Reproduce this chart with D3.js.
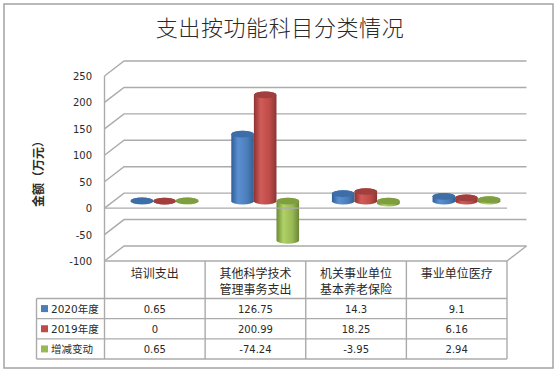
<!DOCTYPE html>
<html>
<head>
<meta charset="utf-8">
<script src="https://cdn.jsdelivr.net/npm/d3@7"></script>
<style>
html, body { margin: 0; padding: 0; background: #fff; }
svg { display: block; }
text { font-family: "DejaVu Sans", "Noto Sans CJK SC", sans-serif; fill: #2a2a2a; }
.cjk { font-family: "Noto Sans CJK SC", sans-serif; }
</style>
</head>
<body>
<div id="container"></div>
<script>
const categories = [["培训支出"], ["其他科学技术", "管理事务支出"], ["机关事业单位", "基本养老保险"], ["事业单位医疗"]];
const seriesNames = ["2020年度", "2019年度", "增减变动"];
const values2020 = [0.65, 126.75, 14.3, 9.1];
const values2019 = [0, 200.99, 18.25, 6.16];
const valuesChange = [0.65, -74.24, -3.95, 2.94];
const yTicks = [-100, -50, 0, 50, 100, 150, 200, 250];

const allValues = [values2020, values2019, valuesChange];
const width = 558, height = 372;
const gray = "#ababab";

// front plane of the 3d box, back wall is shifted by depth
const plotLeft = 104.5, plotRight = 507, plotTop = 76, plotBottom = 261;
const depthX = 19.5, depthY = 15;
const tableLeft = 36.5, tableHeadBottom = 298.5, tableBottom = 359;

const colors = [
    { id: "blue", edge: "#2f5e98", light: "#5b8fd0", mid: "#4a7ebb", dark: "#34608f", cap: "#3d6ea8" },
    { id: "red", edge: "#8e3331", light: "#d05c59", mid: "#be4b48", dark: "#8a3634", cap: "#a03f3d" },
    { id: "green", edge: "#6d8a35", light: "#b0d166", mid: "#98b954", dark: "#6c8636", cap: "#7f9e3f" }
];

const svg = d3.select("#container").append("svg")
    .attr("width", width)
    .attr("height", height);

const defs = svg.append("defs");
colors.forEach(c => {
    const g = defs.append("linearGradient").attr("id", "grad-" + c.id);
    g.append("stop").attr("offset", "0%").attr("stop-color", c.edge);
    g.append("stop").attr("offset", "30%").attr("stop-color", c.light);
    g.append("stop").attr("offset", "70%").attr("stop-color", c.mid);
    g.append("stop").attr("offset", "100%").attr("stop-color", c.dark);
});

// chart frame
svg.append("rect")
    .attr("x", 4).attr("y", 4)
    .attr("width", 549).attr("height", 364)
    .attr("fill", "#fff")
    .attr("stroke", "#a3a3a3")
    .attr("stroke-width", 1.5);

svg.append("text")
    .attr("class", "cjk")
    .attr("x", 280).attr("y", 35.5)
    .attr("text-anchor", "middle")
    .style("font-size", "22px")
    .style("letter-spacing", "0.6px")
    .style("font-weight", 300)
    .text("支出按功能科目分类情况");

const x = d3.scaleBand()
    .domain(d3.range(categories.length))
    .range([plotLeft, plotRight]);

const y = d3.scaleLinear()
    .domain([-100, 250])
    .range([plotBottom, plotTop]);

// walls
const grid = svg.append("g")
    .attr("fill", "none")
    .attr("stroke", gray)
    .attr("stroke-width", 1.4);

grid.selectAll("path.wall")
    .data(yTicks)
    .join("path")
    .attr("class", "wall")
    .attr("d", d => `M${plotLeft},${y(d)}L${plotLeft + depthX},${y(d) - depthY}H${plotRight + depthX}`);

grid.append("path").attr("d", `M${plotLeft},${plotTop}V${plotBottom}`);
grid.append("path").attr("d", `M${plotRight},${plotBottom}L${plotRight + depthX},${plotBottom - depthY}`);

svg.append("g").selectAll("text")
    .data(yTicks)
    .join("text")
    .attr("x", 92)
    .attr("y", d => y(d) + 4)
    .attr("text-anchor", "end")
    .style("font-size", "10px")
    .text(d => d);

svg.append("text")
    .attr("class", "cjk")
    .attr("transform", "translate(43,171) rotate(-90)")
    .attr("text-anchor", "middle")
    .style("font-size", "12px")
    .style("font-weight", 700)
    .text("金额（万元）");

// bars stand in the middle of the box depth
const bars = svg.append("g")
    .attr("transform", `translate(${depthX / 2},${-depthY / 2 + 0.5})`);

const barW = 22.6;
const rx = barW / 2, ry = 3.3;
const x1 = d3.scaleBand()
    .domain(d3.range(seriesNames.length))
    .range([-barW * 1.5, barW * 1.5]);

allValues.forEach((vals, s) => {
    const c = colors[s];
    const g = bars.append("g").selectAll("g")
        .data(vals)
        .join("g")
        .attr("transform", (d, i) => `translate(${x(i) + x.bandwidth() / 2 + x1(s) + rx},0)`);

    g.append("path")
        .attr("fill", `url(#grad-${c.id})`)
        .attr("d", d => {
            const a = y(Math.max(d, 0)), b = y(Math.min(d, 0));
            return `M${-rx},${a}V${b}A${rx},${ry} 0 0 0 ${rx},${b}V${a}A${rx},${ry} 0 0 0 ${-rx},${a}Z`;
        });

    g.append("ellipse")
        .attr("cy", d => y(Math.max(d, 0)))
        .attr("rx", rx)
        .attr("ry", ry)
        .attr("fill", c.cap);
});

// axis line at zero runs in front of the bars
svg.append("line")
    .attr("x1", plotLeft).attr("x2", plotRight)
    .attr("y1", y(0)).attr("y2", y(0))
    .attr("stroke", gray)
    .attr("stroke-width", 1.4);

// data table
const rows = d3.scaleBand()
    .domain(d3.range(seriesNames.length))
    .range([tableHeadBottom, tableBottom]);

const table = svg.append("g")
    .attr("fill", "none")
    .attr("stroke", gray)
    .attr("stroke-width", 1.4);

table.append("path").attr("d", `M${plotLeft},${plotBottom}H${plotRight}`);
table.selectAll("path.hline")
    .data(d3.range(seriesNames.length + 1))
    .join("path")
    .attr("class", "hline")
    .attr("d", i => `M${tableLeft},${tableHeadBottom + i * rows.bandwidth()}H${plotRight}`);
table.selectAll("path.vline")
    .data(d3.range(categories.length + 1))
    .join("path")
    .attr("class", "vline")
    .attr("d", i => `M${plotLeft + i * x.bandwidth()},${plotBottom}V${tableBottom}`);
table.append("path").attr("d", `M${tableLeft},${tableHeadBottom}V${tableBottom}`);

const heads = svg.append("g").selectAll("text")
    .data(categories)
    .join("text")
    .attr("class", "cjk")
    .attr("text-anchor", "middle")
    .attr("transform", (d, i) => `translate(${x(i) + x.bandwidth() / 2},0)`)
    .style("font-size", "12px");

heads.selectAll("tspan")
    .data(d => d)
    .join("tspan")
    .attr("x", 0)
    .attr("y", (d, i) => 277.5 + i * 16.5)
    .text(d => d);

seriesNames.forEach((name, s) => {
    const cy = rows(s) + rows.bandwidth() / 2;
    svg.append("rect")
        .attr("x", 41).attr("y", cy - 3.5)
        .attr("width", 7).attr("height", 7)
        .attr("fill", colors[s].mid);

    svg.append("text")
        .attr("x", 51)
        .attr("y", cy + 4)
        .style("font-size", "10.5px")
        .text(name);

    svg.append("g").selectAll("text")
        .data(allValues[s])
        .join("text")
        .attr("x", (d, i) => x(i) + x.bandwidth() / 2)
        .attr("y", cy + 4)
        .attr("text-anchor", "middle")
        .style("font-size", "10px")
        .text(d => d);
});
</script>
</body>
</html>
